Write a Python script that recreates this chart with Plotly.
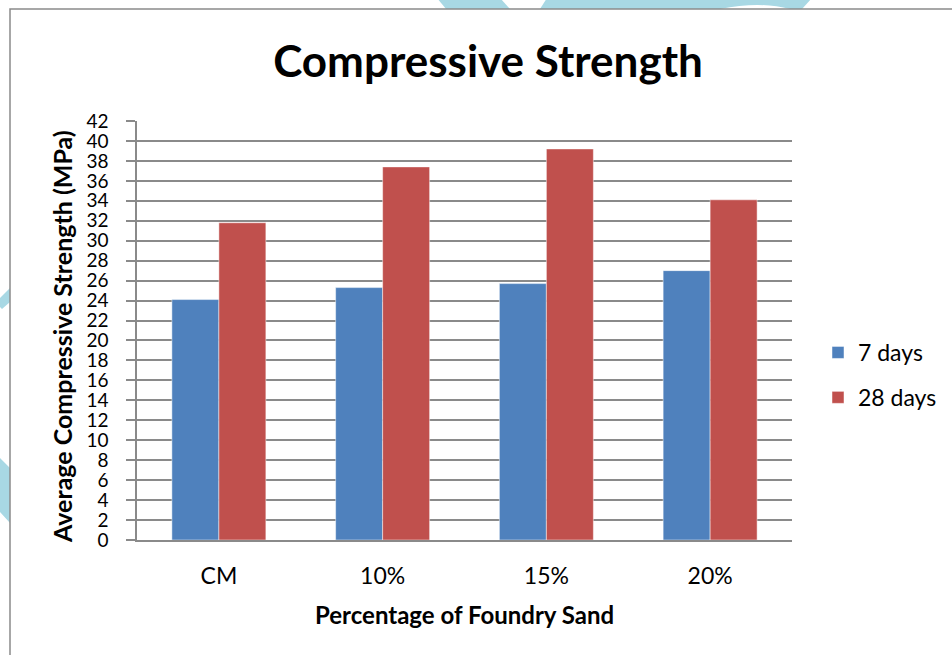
import plotly.graph_objects as go

categories = ["CM", "10%", "15%", "20%"]
days7 = [24.1, 25.3, 25.7, 27.0]
days28 = [31.8, 37.4, 39.2, 34.1]
series_names = ["7 days", "28 days"]
y_ticks = list(range(0, 43, 2))

W, H = 952, 655
L, R, T, B = 137, 792, 121, 540
FONT = "Lato"


def px(x):
    return (x - L) / (R - L)


def py(y):
    return (B - y) / (B - T)


fig = go.Figure()
fig.add_trace(go.Bar(x=categories, y=days7, name=series_names[0], legendgroup="a",
                     marker=dict(color="#4F81BD", line=dict(width=0.8, color="rgba(255,255,255,0.6)"))))
fig.add_trace(go.Bar(x=categories, y=days28, name=series_names[1], legendgroup="b",
                     marker=dict(color="#C0504D", line=dict(width=0.8, color="rgba(255,255,255,0.6)"))))

shapes = []
wm = "#A8D8E4"


def poly(pts):
    d = "M " + " L ".join(f"{px(a):.5f},{py(b):.5f}" for a, b in pts) + " Z"
    return dict(type="path", xref="paper", yref="paper", path=d,
                fillcolor=wm, line=dict(width=0), layer="above")


shapes.append(poly([(437, -2), (500, -2), (510, 9), (446, 9)]))
shapes.append(poly([(547, -2), (812, -2), (802, 9), (540, 9)]))
shapes.append(poly([(-2, 300), (10, 288), (10, 302), (2, 309), (-2, 305)]))
shapes.append(poly([(-2, 458), (0, 458), (10, 468), (10, 523), (0, 512), (-2, 512)]))
shapes.append(dict(type="path", xref="paper", yref="paper",
                   path=f"M {px(720):.5f},{py(9):.5f} Q {px(760):.5f},{py(1):.5f} {px(790):.5f},{py(9):.5f} Z",
                   fillcolor="white", line=dict(width=0), layer="above"))
shapes.append(dict(type="rect", xref="paper", yref="paper",
                   x0=px(10), x1=px(1000), y0=py(700), y1=py(9),
                   line=dict(color="#8A8A8A", width=1.5), fillcolor="rgba(0,0,0,0)", layer="above"))

fig.update_layout(
    width=W, height=H,
    margin=dict(l=L, r=W - R, t=T, b=H - B),
    paper_bgcolor="white", plot_bgcolor="white",
    barmode="group", bargap=0.426, bargroupgap=0,
    font=dict(family=FONT, color="black"),
    title=dict(text="<b>Compressive Strength</b>", x=488 / W, xanchor="center",
               y=1 - 62 / H, yanchor="middle", yref="container",
               font=dict(family=FONT, size=44, color="black")),
    xaxis=dict(showline=True, linecolor="#8A8A8A", linewidth=1.5, ticks="",
               tickfont=dict(family=FONT, size=23, color="black"),
               ticklabelstandoff=15, showgrid=False),
    yaxis=dict(range=[0, 42], tickvals=y_ticks, ticktext=[str(v) for v in y_ticks],
               showline=True, linecolor="#8A8A8A", linewidth=1.5,
               ticks="outside", ticklen=9, tickcolor="#8A8A8A", tickwidth=1.5,
               showgrid=True, gridcolor="#8A8A8A", gridwidth=1.5,
               tickfont=dict(family=FONT, size=19, color="black"),
               ticklabelstandoff=14, zeroline=False),
    legend=dict(x=818 / W, xref="container", y=1 - 331 / H, yref="container",
                xanchor="left", yanchor="top", tracegroupgap=12,
                traceorder="grouped",
                font=dict(family=FONT, size=23, color="black"), itemwidth=30,
                bgcolor="rgba(0,0,0,0)"),
    shapes=shapes,
    annotations=[
        dict(text="<b>Average Compressive Strength (MPa)</b>", textangle=-90,
             xref="paper", yref="paper", x=px(62), y=py(337), showarrow=False,
             xanchor="center", yanchor="middle", font=dict(family=FONT, size=25, color="black")),
        dict(text="<b>Percentage of Foundry Sand</b>",
             xref="paper", yref="paper", x=px(464), y=py(614), showarrow=False,
             xanchor="center", yanchor="middle", font=dict(family=FONT, size=24, color="black")),
    ],
)

fig.write_html("out.html")
